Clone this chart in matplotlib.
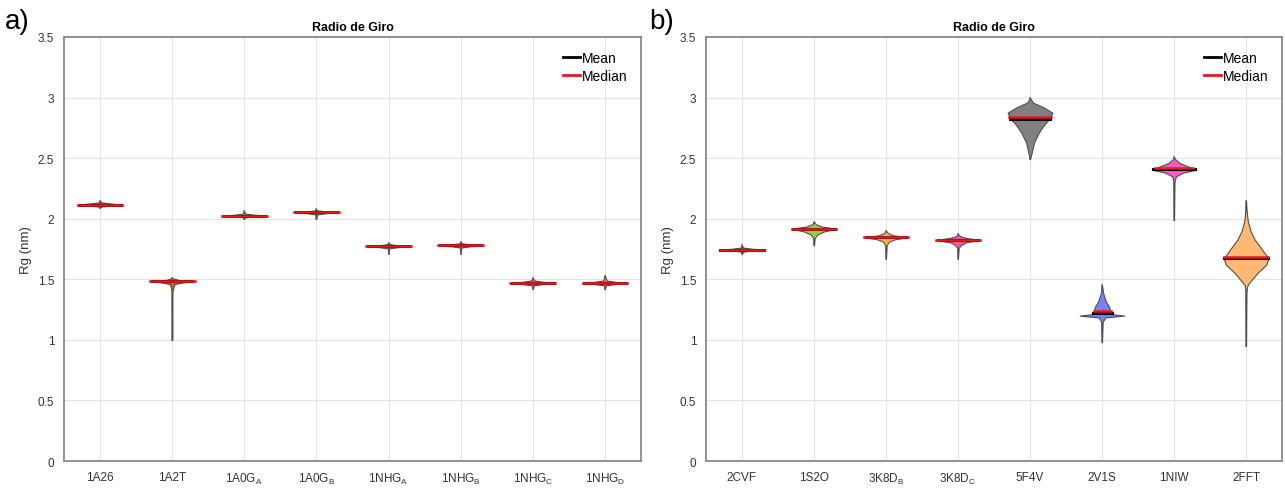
import matplotlib.pyplot as plt
import numpy as np

plt.rcParams['font.family'] = ['Liberation Sans', 'DejaVu Sans']
plt.rcParams['mathtext.fontset'] = 'custom'
plt.rcParams['mathtext.rm'] = 'Liberation Sans'

# Panel a) proteins
labels_a = ['1A26', '1A2T', r'1A0G$_\mathregular{A}$', r'1A0G$_\mathregular{B}$',
            r'1NHG$_\mathregular{A}$', r'1NHG$_\mathregular{B}$',
            r'1NHG$_\mathregular{C}$', r'1NHG$_\mathregular{D}$']
# Rg levels (nm) and relative violin width at each level
levels_a = [
    [2.09, 2.10, 2.108, 2.117, 2.126, 2.135, 2.15],
    [1.00, 1.40, 1.46, 1.475, 1.484, 1.494, 1.51],
    [2.00, 2.012, 2.019, 2.026, 2.033, 2.042, 2.06],
    [2.00, 2.035, 2.045, 2.053, 2.061, 2.068, 2.08],
    [1.71, 1.755, 1.765, 1.773, 1.781, 1.79, 1.80],
    [1.71, 1.762, 1.772, 1.780, 1.788, 1.797, 1.81],
    [1.42, 1.45, 1.462, 1.470, 1.478, 1.49, 1.51],
    [1.42, 1.45, 1.462, 1.470, 1.478, 1.49, 1.53],
]
dens_a = [
    [0, 0.05, 0.45, 1.0, 0.45, 0.05, 0],
    [0, 0.01, 0.10, 0.5, 1.0, 0.3, 0],
    [0, 0.05, 0.45, 1.0, 0.45, 0.05, 0],
    [0, 0.03, 0.40, 1.0, 0.40, 0.05, 0],
    [0, 0.03, 0.40, 1.0, 0.40, 0.05, 0],
    [0, 0.03, 0.40, 1.0, 0.40, 0.05, 0],
    [0, 0.05, 0.50, 1.0, 0.50, 0.08, 0],
    [0, 0.05, 0.50, 1.0, 0.50, 0.08, 0],
]
median_a = [2.117, 1.484, 2.026, 2.053, 1.773, 1.780, 1.470, 1.470]
mean_a = [2.116, 1.482, 2.025, 2.052, 1.772, 1.779, 1.469, 1.469]
colors_a = ['#e03030', '#e8582a', '#c98a3a', '#e03030', '#e03a30', '#e03a30', '#ee3f9a', '#f07a3a']

# Panel b) proteins
labels_b = ['2CVF', '1S2O', r'3K8D$_\mathregular{B}$', r'3K8D$_\mathregular{C}$',
            '5F4V', '2V1S', '1NIW', '2FFT']
levels_b = [
    [1.71, 1.728, 1.738, 1.745, 1.752, 1.762, 1.78],
    [1.78, 1.84, 1.87, 1.895, 1.918, 1.935, 1.955, 1.975],
    [1.67, 1.78, 1.81, 1.83, 1.848, 1.862, 1.88, 1.90],
    [1.67, 1.76, 1.785, 1.805, 1.825, 1.84, 1.855, 1.875],
    [2.49, 2.54, 2.63, 2.71, 2.78, 2.83, 2.876, 2.92, 2.96, 3.00],
    [0.98, 1.15, 1.185, 1.20, 1.212, 1.235, 1.28, 1.31, 1.38, 1.45],
    [1.99, 2.30, 2.35, 2.38, 2.405, 2.43, 2.46, 2.49, 2.51],
    [0.95, 1.40, 1.45, 1.48, 1.55, 1.62, 1.672, 1.75, 1.83, 1.90, 1.98, 2.06, 2.15],
]
dens_b = [
    [0, 0.05, 0.45, 1.0, 0.45, 0.05, 0],
    [0, 0.03, 0.15, 0.45, 1.0, 0.35, 0.08, 0],
    [0, 0.03, 0.12, 0.40, 1.0, 0.35, 0.10, 0],
    [0, 0.03, 0.15, 0.35, 1.0, 0.40, 0.10, 0],
    [0, 0.07, 0.18, 0.39, 0.65, 0.9, 1.0, 0.6, 0.12, 0],
    [0, 0.03, 0.15, 1.0, 0.45, 0.38, 0.3, 0.19, 0.06, 0],
    [0, 0.02, 0.08, 0.40, 1.0, 0.65, 0.25, 0.06, 0],
    [0, 0.02, 0.06, 0.18, 0.5, 0.9, 1.0, 0.7, 0.38, 0.2, 0.08, 0.03, 0],
]
median_b = [1.745, 1.918, 1.848, 1.825, 2.84, 1.235, 2.415, 1.68]
mean_b = [1.745, 1.915, 1.845, 1.822, 2.825, 1.22, 2.41, 1.675]
colors_b = ['#e03030', '#8fd14f', '#f7b548', '#ef5aa8', '#808080', '#7f7ff0', '#f25fc8', '#fdb874']

HALF_W = 0.31


def draw_violins(ax, labels, levels, dens, medians, means, colors):
    for i in range(len(labels)):
        pos = i + 1
        y = np.array(levels[i])
        w = np.array(dens[i]) * HALF_W
        ax.plot([pos, pos], [y.min(), y.max()], color='#808080', lw=1.3, zorder=2)
        ax.fill_betweenx(y, pos - w, pos + w, facecolor=colors[i],
                         edgecolor='#505050', lw=0.8, zorder=3)
        wm = np.interp(medians[i], y, w)
        wa = np.interp(means[i], y, w)
        ax.plot([pos - wa, pos + wa], [means[i]] * 2, color='black', lw=2.2, zorder=4)
        ax.plot([pos - wm, pos + wm], [medians[i]] * 2, color='#e41a1c', lw=1.8, zorder=5)

    ax.set_xlim(0.5, len(labels) + 0.5)
    ax.set_ylim(0, 3.5)
    ax.set_xticks(range(1, len(labels) + 1))
    ax.set_xticklabels(labels, fontsize=8.5, color='#333333')
    ax.set_yticks([0, 0.5, 1, 1.5, 2, 2.5, 3, 3.5])
    ax.set_yticklabels(['0', '0.5', '1', '1.5', '2', '2.5', '3', '3.5'], fontsize=8.5, color='#333333')
    ax.tick_params(length=0, pad=7)
    ax.grid(True, color='#e4e4e4', lw=0.8)
    ax.set_axisbelow(True)
    for s in ax.spines.values():
        s.set_color('#8a8a8a')
        s.set_linewidth(1.3)
    ax.set_title('Radio de Giro', fontsize=9, fontweight='bold', pad=5)
    ax.set_ylabel('Rg (nm)', fontsize=9.5, color='#333333', labelpad=4)
    h1, = ax.plot([], [], color='black', lw=2)
    h2, = ax.plot([], [], color='#e41a1c', lw=2)
    ax.legend([h1, h2], ['Mean', 'Median'], loc='upper right', frameon=False,
              fontsize=10, handlelength=1.2, handletextpad=0.1, labelspacing=0.3,
              borderaxespad=0.6)


fig = plt.figure(figsize=(12.85, 4.89), dpi=100)
ax_a = fig.add_axes([0.0498, 0.0552, 0.449, 0.8671])
ax_b = fig.add_axes([0.5494, 0.0552, 0.4483, 0.8671])

draw_violins(ax_a, labels_a, levels_a, dens_a, median_a, mean_a, colors_a)
draw_violins(ax_b, labels_b, levels_b, dens_b, median_b, mean_b, colors_b)

fig.text(0.004, 0.955, 'a)', fontsize=20, va='center', ha='left')
fig.text(0.505, 0.955, 'b)', fontsize=20, va='center', ha='left')

fig.savefig('out.png', dpi=100)
